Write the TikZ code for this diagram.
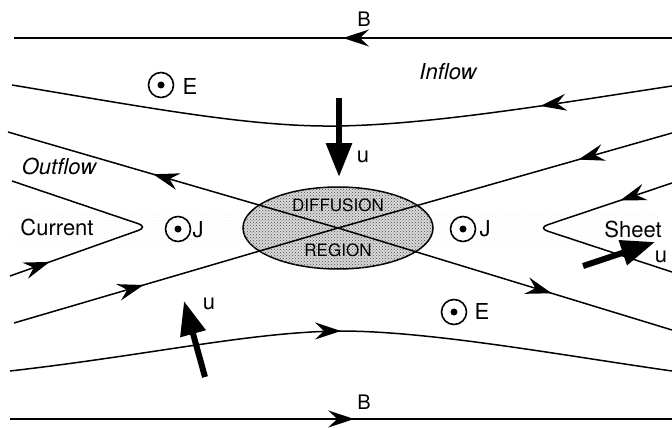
\documentclass[tikz,border=0pt]{standalone}
\usepackage{fontspec}
\setmainfont{TeX Gyre Heros}
\usetikzlibrary{arrows.meta,decorations.markings,patterns,shapes.geometric}
\begin{document}
\begin{tikzpicture}[x=1pt,y=-1pt,
  field/.style={line width=1.5pt},
  fa/.style={postaction={decorate,decoration={markings,mark=at position #1 with {\arrow{Stealth[length=26pt,width=17pt,inset=9pt]}}}}},
  flow/.style={line width=6pt,-{Triangle[length=34pt,width=25pt]}},
  lab/.style={font=\fontsize{22}{26}\selectfont,inner sep=0pt},
  big/.style={font=\fontsize{22}{26}\selectfont,inner sep=0pt},
  dotc/.style={circle,draw,line width=1.6pt,minimum size=25pt,inner sep=0pt},
  region/.style={ellipse,draw,line width=1.5pt,minimum width=190pt,minimum height=82pt,fill=gray!30,postaction={pattern=crosshatch dots,pattern color=black!70}},
]
\useasboundingbox (0,0) rectangle (672,428);
% faint current sheet
\fill[pattern=dots,pattern color=gray!18] (15,214) rectangle (655,244);
% diffusion region
\node[region] (diff) at (338,228) {};
\coordinate (c) at (338,228);
% field lines
\draw[field,fa=0.5] (672,38) -- (14,38);
\draw[field,fa=0.2] (672,86) .. controls (560,103) and (430,125) .. (336,126) .. controls (250,127) and (150,108) .. (12,85);
\draw[field,fa=0.56] (c) -- (8,132);
\draw[field,fa=0.64] (c) -- (672,330);
\draw[field,fa=0.40] (14,323) -- (c);
\draw[field,fa=0.28] (672,133) -- (c);
\draw[field,rounded corners=10pt,fa=0.15] (10,276) -- (148,227) -- (12,181);
\draw[field,rounded corners=10pt,fa=0.2] (672,183) -- (538,228) -- (672,272);
\draw[field,fa=0.5] (10,371) .. controls (150,355) and (250,332) .. (340,331) .. controls (430,331) and (560,355) .. (672,371);
\draw[field,fa=0.52] (10,419) -- (672,419);
% texts in region
\node[font=\fontsize{17}{20}\selectfont,inner sep=0pt] (dt) at (338,205) {DIFFUSION};
\node[font=\fontsize{17}{20}\selectfont,inner sep=0pt] (rt) at (338,250) {REGION};
% flow arrows
\draw[flow] (339,98) -- (339,177);
\node[lab] (u1) at (363,157) {u};
\draw[flow] (205,377) -- (184,301);
\node[lab] (u2) at (209,304) {u};
\draw[flow] (583,266) -- (655,242);
\node[lab] (u3) at (661,257) {u};
% symbols
\node[dotc] (e1) at (161,85) {}; \fill (e1) circle (3.5pt);
\node[lab] (e1t) at (190,86) {E};
\node[dotc] (e2) at (454,312) {}; \fill (e2) circle (3.5pt);
\node[lab] (e2t) at (482,311) {E};
\node[dotc] (j1) at (178,229) {}; \fill (j1) circle (3.5pt);
\node[lab] (j1t) at (198,230) {J};
\node[dotc] (j2) at (463,229) {}; \fill (j2) circle (3.5pt);
\node[lab] (j2t) at (485,229) {J};
% labels
\node[lab,font=\fontsize{20}{24}\selectfont] (b1) at (364,19) {B};
\node[lab,font=\fontsize{20}{24}\selectfont] (b2) at (364,402) {B};
\node[big,font=\fontsize{22}{26}\selectfont\itshape] (inf) at (448,72) {Inflow};
\node[big,font=\fontsize{22}{26}\selectfont\itshape] (outf) at (59,166) {Outflow};
\node[big] (cur) at (57,227) {Current};
\node[big] (sh) at (633,229) {Sheet};
\end{tikzpicture}
\end{document}
